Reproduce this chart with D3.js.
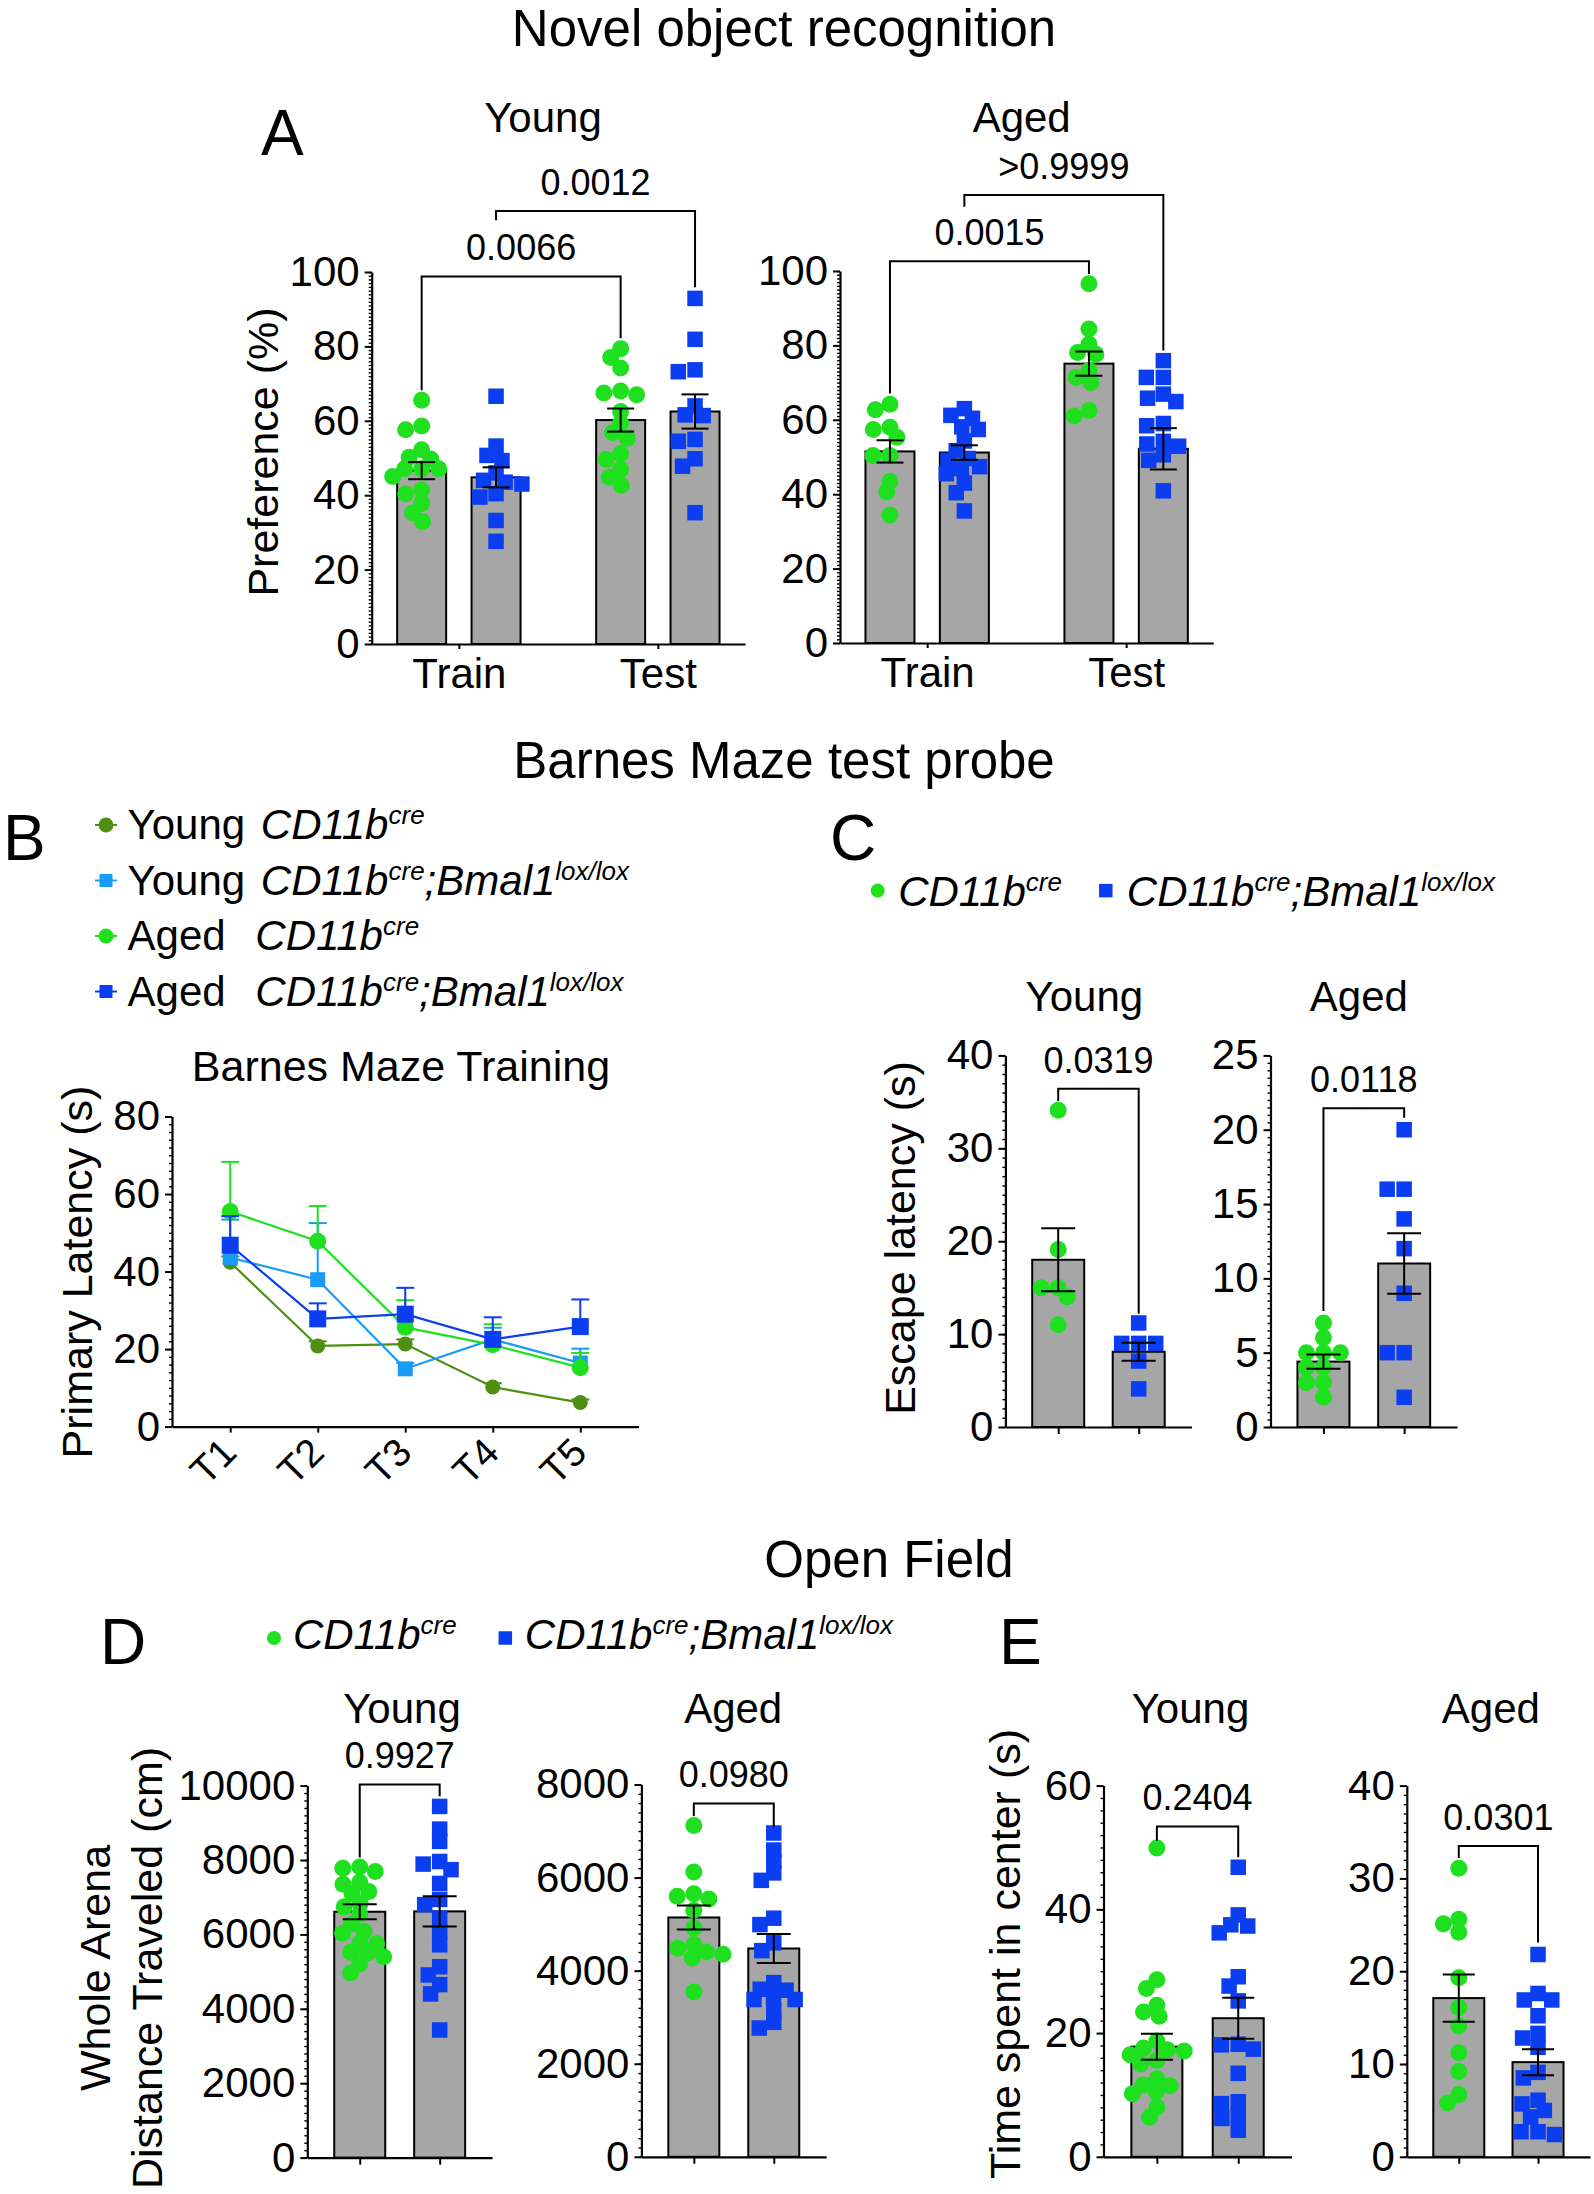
<!DOCTYPE html>
<html><head><meta charset="utf-8">
<script src="https://cdn.jsdelivr.net/npm/d3@7"></script>
<style>
body{margin:0;background:#fff;}
svg{font-family:"Liberation Sans", Arial, Helvetica, sans-serif;}
text{fill:#000;}
</style></head><body>
<script>
// ================= DATA =================
const genotypes = ["CD11b-cre", "CD11b-cre;Bmal1-lox/lox"];
const norCategories = ["Train", "Test"];

// A: Novel object recognition, preference (%)
const norYoungMeans = [46.6, 44.8, 60.2, 62.5];       // Train-cre, Train-KO, Test-cre, Test-KO
const norYoungSEM   = [2.3, 2.7, 3.1, 4.6];
const norYoungTrainCre = [65.5, 58.6, 57.6, 52.2, 50.2, 49.7, 47.1, 47.1, 47.1, 45.0, 41.4, 40.4, 37.8, 35.3, 32.9];
const norYoungTrainKO  = [66.6, 53.2, 50.7, 49.3, 46.0, 44.0, 43.5, 43.0, 40.4, 39.5, 33.2, 27.6];
const norYoungTestCre  = [79.4, 77.0, 74.2, 68.0, 67.5, 67.0, 62.5, 59.4, 56.8, 55.3, 51.2, 49.6, 47.0, 44.8, 42.7];
const norYoungTestKO   = [92.9, 81.9, 73.7, 73.2, 64.0, 61.6, 61.4, 55.0, 54.5, 49.8, 47.8, 35.3];
const norYoungP = ["0.0066", "0.0012"];

const norAgedMeans = [51.5, 51.2, 75.1, 52.2];
const norAgedSEM   = [3.0, 1.95, 3.25, 5.55];
const norAgedTrainCre = [64.2, 62.7, 58.0, 57.4, 55.3, 50.4, 50.4, 43.5, 40.6, 34.4];
const norAgedTrainKO  = [63.0, 61.2, 60.4, 58.1, 57.4, 54.3, 51.7, 49.6, 49.1, 47.4, 46.9, 45.5, 43.0, 40.4, 35.5];
const norAgedTestCre  = [96.6, 84.4, 80.3, 78.1, 77.6, 73.3, 71.4, 70.0, 62.5, 61.0];
const norAgedTestKO   = [75.9, 71.4, 71.4, 66.9, 65.8, 64.9, 59.0, 58.4, 54.2, 53.5, 52.9, 50.6, 49.1, 40.9];
const norAgedP = ["0.0015", ">0.9999"];

// B: Barnes maze training, primary latency (s)
const trials = ["T1", "T2", "T3", "T4", "T5"];
const bmYoungCre    = [42.4, 20.8, 21.3, 10.2, 6.2];
const bmYoungCreSEM = [1.5, 1.2, 1.2, 1.0, 0.8];
const bmYoungKO     = [43.6, 37.9, 14.9, 22.5, 16.4];
const bmYoungKOSEM  = [9.8, 14.6, 1.5, 3.0, 3.7];
const bmAgedCre     = [55.5, 47.8, 25.6, 21.1, 15.2];
const bmAgedCreSEM  = [12.8, 9.1, 7.0, 5.3, 3.8];
const bmAgedKO      = [46.8, 27.8, 29.0, 22.5, 25.8];
const bmAgedKOSEM   = [7.5, 4.0, 6.8, 5.7, 7.0];

// C: Barnes maze probe, escape latency (s)
const escYoungMeans = [18.0, 8.1];
const escYoungSEM   = [3.4, 0.98];
const escYoungCre = [34.1, 19.1, 15.0, 15.0, 14.0, 11.0];
const escYoungKO  = [11.2, 9.0, 9.0, 9.0, 7.1, 4.1];
const escYoungP = ["0.0319"];
const escAgedMeans = [4.4, 11.0];
const escAgedSEM   = [0.48, 2.04];
const escAgedCre = [7.0, 6.0, 5.0, 5.0, 5.0, 4.0, 4.0, 3.0, 3.0, 2.0];
const escAgedKO  = [20.0, 16.0, 16.0, 14.0, 12.0, 9.0, 5.0, 5.0, 2.0];
const escAgedP = ["0.0118"];

// D: Open field, whole-arena distance (cm)
const distYoungMeans = [6609, 6619];
const distYoungSEM   = [199, 407];
const distYoungCre = [7810, 7780, 7690, 7400, 7350, 7150, 7100, 6840, 6740, 6540, 6280, 6080, 6030, 5770, 5750, 5520, 5500, 5400, 5210, 4960];
const distYoungKO  = [9440, 8830, 8500, 7960, 7890, 7740, 7370, 6940, 6800, 6440, 6080, 5720, 5130, 4910, 4650, 4400, 3430];
const distYoungP = ["0.9927"];
const distAgedMeans = [5143, 4476];
const distAgedSEM   = [257, 309];
const distAgedCre = [7120, 6120, 5650, 5600, 5540, 5300, 4920, 4560, 4480, 4400, 4350, 4270, 3540];
const distAgedKO  = [6958, 6592, 6348, 6100, 5940, 5127, 4990, 4598, 4430, 3743, 3600, 3580, 3420, 3380, 3380, 3133, 2890, 2767];
const distAgedP = ["0.0980"];

// E: Open field, time in center (s)
const ctrYoungMeans = [17.8, 22.4];
const ctrYoungSEM   = [2.1, 3.3];
const ctrYoungCre = [49.9, 28.6, 27.2, 24.5, 23.4, 22.7, 18.7, 17.6, 17.3, 17.1, 16.5, 15.6, 15.0, 12.6, 11.6, 11.5, 10.5, 10.2, 8.0, 6.4];
const ctrYoungKO  = [46.8, 39.1, 37.5, 37.3, 36.2, 29.1, 27.6, 25.2, 18.2, 18.1, 17.4, 13.5, 8.9, 8.6, 6.7, 6.2, 4.3];
const ctrYoungP = ["0.2404"];
const ctrAgedMeans = [17.1, 10.2];
const ctrAgedSEM   = [2.55, 1.4];
const ctrAgedCre = [31.1, 25.6, 25.1, 24.2, 19.3, 16.1, 14.1, 11.2, 9.2, 6.7, 5.8];
const ctrAgedKO  = [21.8, 17.6, 16.9, 16.9, 15.2, 13.3, 12.8, 11.8, 9.1, 8.5, 6.1, 5.7, 5.0, 4.3, 2.7, 2.7, 2.4];
const ctrAgedP = ["0.0301"];

// ================= STYLE / LAYOUT =================
const W = 1594, H = 2194;
const FONT = 42, PFONT = 36, LETTER = 64, SECTION = 51;
const GREEN = "#1fe01f", BLUE = "#0b3ef0", OLIVE = "#4f8f12", LIGHTBLUE = "#1a9cf6", BARFILL = "#a6a6a6";
const SWARM_DX = 17, SWARM_DY = 11;

const svg = d3.select("body").append("svg").attr("width", W).attr("height", H);

function txt(x, y, s, size, anchor) {
  return svg.append("text").attr("x", x).attr("y", y).attr("text-anchor", anchor || "middle")
    .style("font-size", size + "px").text(s);
}
function vtxt(x, y, s, size) {
  return svg.append("text").attr("transform", `translate(${x},${y}) rotate(-90)`)
    .attr("text-anchor", "middle").style("font-size", size + "px").text(s);
}
function rich(parent, x, y, parts, size) {
  const t = parent.append("text").attr("x", x).attr("y", y).style("font-size", size + "px").style("white-space", "pre");
  let shift = 0;
  parts.forEach(p => {
    const ts = t.append("tspan").text(p.t);
    if (p.i) ts.style("font-style", "italic");
    const target = p.sup ? -Math.round(size * 0.36) : 0;
    if (target - shift !== 0) ts.attr("dy", target - shift);
    shift = target;
    if (p.sup) ts.style("font-size", Math.round(size * 0.62) + "px");
    if (p.dx) ts.attr("dx", p.dx);
  });
  return t;
}
function marker(g, kind, x, y, size, color) {
  if (kind === 0) g.append("circle").attr("cx", x).attr("cy", y).attr("r", size / 2).attr("fill", color);
  else g.append("rect").attr("x", x - size / 2).attr("y", y - size / 2).attr("width", size).attr("height", size).attr("fill", color);
}

// deterministic beeswarm placement (elliptical footprint: wider than tall, like GraphPad scatter)
function swarm(values, y, cx) {
  const placed = [];
  const pts = values.map(v => ({ v, y: y(v) })).sort((a, b) => a.y - b.y);
  pts.forEach(p => {
    const iv = [];
    placed.forEach(q => {
      const dy = Math.abs(q.y - p.y);
      if (dy < SWARM_DY) { const dx = SWARM_DX * Math.sqrt(1 - (dy / SWARM_DY) ** 2); iv.push([q.x - dx, q.x + dx]); }
    });
    const cands = [cx];
    iv.forEach(([a, b]) => cands.push(a, b));
    cands.sort((a, b) => Math.abs(a - cx) - Math.abs(b - cx));
    for (const c of cands) {
      if (iv.every(([a, b]) => c <= a + 1e-6 || c >= b - 1e-6)) { p.x = c; break; }
    }
    placed.push(p);
  });
  return placed;
}

function styleAxis(a) {
  a.attr("font-family", null).attr("font-size", null);
  a.select(".domain").attr("stroke-width", 2.2);
  a.selectAll(".tick line").attr("stroke-width", 2);
  a.selectAll(".tick text").style("font-size", FONT + "px").attr("fill", "#000");
}

function barPanel(c) {
  const g = svg.append("g");
  const y = d3.scaleLinear().domain([0, c.max]).range([c.y0, c.yTop]);
  const x = d3.scalePoint().domain(c.cats).range([c.axisX, c.xEnd]).padding(c.pad);
  const sub = d3.scalePoint().domain(genotypes).range([-c.sub, c.sub]);
  const cx = b => x(b.cat) + (c.sub ? sub(genotypes[b.geno]) : 0);

  // minor ticks
  g.append("g").attr("transform", `translate(${c.axisX},0)`)
    .call(d3.axisLeft(y).tickValues(d3.range(0, c.max + 1e-9, c.minor)).tickSize(3).tickFormat(""))
    .call(s => s.select(".domain").remove())
    .selectAll("line").attr("stroke-width", 1.4);
  const ya = g.append("g").attr("transform", `translate(${c.axisX},0)`)
    .call(d3.axisLeft(y).tickValues(d3.range(0, c.max + 1e-9, c.step)).tickSize(7).tickSizeOuter(0)
      .tickPadding(5).tickFormat(d3.format("d")));
  styleAxis(ya);

  // bars
  c.bars.forEach(b => {
    g.append("rect").attr("x", cx(b) - c.bw / 2).attr("y", y(b.mean)).attr("width", c.bw)
      .attr("height", c.y0 - y(b.mean)).attr("fill", BARFILL).attr("stroke", "#000").attr("stroke-width", 2);
  });
  const xa = g.append("g").attr("transform", `translate(0,${c.y0})`)
    .call(d3.axisBottom(x).tickSize(7).tickSizeOuter(0).tickPadding(7).tickFormat(c.showCats ? d => d : () => ""));
  styleAxis(xa);
  if (c.sub) xa.selectAll(".tick line").attr("y2", 5);

  // points
  c.bars.forEach(b => {
    const color = b.geno === 0 ? GREEN : BLUE;
    const size = b.geno === 0 ? 17 : 15.5;
    swarm(b.pts, y, cx(b)).forEach(p => marker(g, b.geno, p.x, p.y, size, color));
  });
  // error bars
  c.bars.forEach(b => {
    const xc = cx(b), t = y(b.mean + b.sem), bt = y(b.mean - b.sem);
    g.append("line").attr("x1", xc).attr("x2", xc).attr("y1", t).attr("y2", bt).attr("stroke", "#000").attr("stroke-width", 2);
    [t, bt].forEach(yy => g.append("line").attr("x1", xc - c.cap / 2).attr("x2", xc + c.cap / 2)
      .attr("y1", yy).attr("y2", yy).attr("stroke", "#000").attr("stroke-width", 2));
  });
  // brackets
  c.brackets.forEach(k => {
    const xl = cx(c.bars[k.from]), xr = cx(c.bars[k.to]);
    g.append("path").attr("d", `M${xl},${y(k.legL)}V${y(k.level)}H${xr}V${y(k.legR)}`)
      .attr("fill", "none").attr("stroke", "#000").attr("stroke-width", 2);
    txt((xl + xr) / 2, y(k.level) - 16, k.label, PFONT);
  });
  txt(c.titleX, c.titleY, c.title, FONT);
}

// ================= SECTION TITLES / LETTERS =================
txt(784, 46, "Novel object recognition", SECTION);
txt(784, 778, "Barnes Maze test probe", SECTION);
txt(889, 1577, "Open Field", SECTION);
txt(261, 155, "A", LETTER, "start");
txt(3, 860, "B", LETTER, "start");
txt(830, 860, "C", LETTER, "start");
txt(100, 1664, "D", LETTER, "start");
txt(999, 1664, "E", LETTER, "start");

// ================= PANEL A =================
const mkBars4 = (means, sem, sets) => means.map((m, i) => ({
  cat: norCategories[Math.floor(i / 2)], geno: i % 2, mean: m, sem: sem[i], pts: sets[i] }));
const mkBars2 = (means, sem, sets) => means.map((m, i) => ({
  cat: genotypes[i], geno: i, mean: m, sem: sem[i], pts: sets[i] }));

barPanel({ axisX: 371.7, xEnd: 745, y0: 644, yTop: 272, max: 100, step: 20, minor: 1,
  cats: norCategories, pad: 0.438, sub: 37.2, bw: 49, cap: 27, showCats: true,
  bars: mkBars4(norYoungMeans, norYoungSEM, [norYoungTrainCre, norYoungTrainKO, norYoungTestCre, norYoungTestKO]),
  brackets: [{ from: 0, to: 2, level: 98.8, legL: 68.2, legR: 82.2, label: norYoungP[0] },
             { from: 1, to: 3, level: 116.4, legL: 113.9, legR: 95.9, label: norYoungP[1] }],
  title: "Young", titleX: 543, titleY: 131.5 });
barPanel({ axisX: 840, xEnd: 1213.3, y0: 643, yTop: 271, max: 100, step: 20, minor: 1,
  cats: norCategories, pad: 0.438, sub: 37.2, bw: 49, cap: 27, showCats: true,
  bars: mkBars4(norAgedMeans, norAgedSEM, [norAgedTrainCre, norAgedTrainKO, norAgedTestCre, norAgedTestKO]),
  brackets: [{ from: 0, to: 2, level: 102.6, legL: 67.1, legR: 99.2, label: norAgedP[0] },
             { from: 1, to: 3, level: 120.4, legL: 117.3, legR: 78.6, label: norAgedP[1] }],
  title: "Aged", titleX: 1021.7, titleY: 131.5 });
vtxt(277.5, 452, "Preference (%)", 43);

// ================= PANEL B =================
(function () {
  const g = svg.append("g");
  const x = d3.scalePoint().domain(trials).range([172, 638.5]).padding(0.665);
  const y = d3.scaleLinear().domain([0, 80]).range([1426.6, 1116.5]);
  g.append("g").attr("transform", `translate(172,0)`)
    .call(d3.axisLeft(y).tickValues(d3.range(0, 80.001, 2)).tickSize(3).tickFormat(""))
    .call(s => s.select(".domain").remove()).selectAll("line").attr("stroke-width", 1.4);
  const ya = g.append("g").attr("transform", `translate(172,0)`)
    .call(d3.axisLeft(y).tickValues(d3.range(0, 80.001, 20)).tickSize(7).tickSizeOuter(0).tickPadding(5));
  styleAxis(ya);
  const xa = g.append("g").attr("transform", `translate(0,${y(0)})`)
    .call(d3.axisBottom(x).tickSize(6).tickSizeOuter(0));
  styleAxis(xa);
  xa.selectAll(".tick text").attr("y", null).attr("dy", null).attr("text-anchor", "end")
    .attr("transform", "translate(8,28) rotate(-45)").style("font-size", "39px");

  const series = [
    { vals: bmYoungCre, sem: bmYoungCreSEM, color: OLIVE, kind: 0, size: 15 },
    { vals: bmYoungKO, sem: bmYoungKOSEM, color: LIGHTBLUE, kind: 1, size: 15 },
    { vals: bmAgedCre, sem: bmAgedCreSEM, color: GREEN, kind: 0, size: 17 },
    { vals: bmAgedKO, sem: bmAgedKOSEM, color: BLUE, kind: 1, size: 17 }];
  const line = d3.line().x((d, i) => x(trials[i])).y(d => y(d));
  series.forEach(s => {
    s.vals.forEach((v, i) => {
      const xc = x(trials[i]);
      g.append("line").attr("x1", xc).attr("x2", xc).attr("y1", y(v)).attr("y2", y(v + s.sem[i]))
        .attr("stroke", s.color).attr("stroke-width", 2);
      g.append("line").attr("x1", xc - 9).attr("x2", xc + 9).attr("y1", y(v + s.sem[i])).attr("y2", y(v + s.sem[i]))
        .attr("stroke", s.color).attr("stroke-width", 2);
    });
    g.append("path").attr("d", line(s.vals)).attr("fill", "none").attr("stroke", s.color).attr("stroke-width", 2.2);
    s.vals.forEach((v, i) => marker(g, s.kind, x(trials[i]), y(v), s.size, s.color));
  });
  txt(401, 1081, "Barnes Maze Training", 43);
  vtxt(91.5, 1272, "Primary Latency (s)", 43);

  // legend
  const lg = svg.append("g");
  const rows = [
    { age: "Young ", ko: false, color: OLIVE, kind: 0, y: 825 },
    { age: "Young ", ko: true, color: LIGHTBLUE, kind: 1, y: 880.5 },
    { age: "Aged ", ko: false, color: GREEN, kind: 0, y: 936 },
    { age: "Aged ", ko: true, color: BLUE, kind: 1, y: 991.5 }];
  rows.forEach(r => {
    lg.append("line").attr("x1", 95).attr("x2", 117).attr("y1", r.y).attr("y2", r.y).attr("stroke", r.color).attr("stroke-width", 2);
    marker(lg, r.kind, 106, r.y, r.kind === 0 ? 15 : 13, r.color);
    const parts = [{ t: r.age }, { t: "CD11b", i: true, dx: r.age === "Aged " ? 18 : 4 }, { t: "cre", i: true, sup: true }];
    if (r.ko) parts.push({ t: ";Bmal1", i: true }, { t: "lox/lox", i: true, sup: true });
    rich(lg, 127.6, r.y + 14, parts, 42);
  });
})();

// ================= PANEL C =================
barPanel({ axisX: 1005.4, xEnd: 1191.5, y0: 1427, yTop: 1055.4, max: 40, step: 10, minor: 1,
  cats: genotypes, pad: 0.656, sub: 0, bw: 52, cap: 34, showCats: false,
  bars: mkBars2(escYoungMeans, escYoungSEM, [escYoungCre, escYoungKO]),
  brackets: [{ from: 0, to: 1, level: 36.4, legL: 35.1, legR: 12.2, label: escYoungP[0] }],
  title: "Young", titleX: 1084.4, titleY: 1011 });
barPanel({ axisX: 1270.5, xEnd: 1457.1, y0: 1427, yTop: 1055.4, max: 25, step: 5, minor: 0.5,
  cats: genotypes, pad: 0.656, sub: 0, bw: 52, cap: 34, showCats: false,
  bars: mkBars2(escAgedMeans, escAgedSEM, [escAgedCre, escAgedKO]),
  brackets: [{ from: 0, to: 1, level: 21.45, legL: 7.8, legR: 20.8, label: escAgedP[0] }],
  title: "Aged", titleX: 1358.9, titleY: 1011 });
vtxt(914.6, 1238, "Escape latency (s)", 43);
(function () {
  const lg = svg.append("g");
  marker(lg, 0, 877.7, 890.6, 14, GREEN);
  rich(lg, 898.2, 905.8, [{ t: "CD11b", i: true }, { t: "cre", i: true, sup: true }], 42);
  marker(lg, 1, 1105.8, 890.6, 13.5, BLUE);
  rich(lg, 1126.8, 905.8, [{ t: "CD11b", i: true }, { t: "cre", i: true, sup: true }, { t: ";Bmal1", i: true }, { t: "lox/lox", i: true, sup: true }], 42);
})();

// ================= PANEL D =================
barPanel({ axisX: 307.3, xEnd: 492.1, y0: 2157.6, yTop: 1785.6, max: 10000, step: 2000, minor: 200,
  cats: genotypes, pad: 0.656, sub: 0, bw: 51, cap: 34, showCats: false,
  bars: mkBars2(distYoungMeans, distYoungSEM, [distYoungCre, distYoungKO]),
  brackets: [{ from: 0, to: 1, level: 10030, legL: 8065, legR: 9714, label: distYoungP[0] }],
  title: "Young", titleX: 402, titleY: 1723 });
barPanel({ axisX: 641.4, xEnd: 826.2, y0: 2156.8, yTop: 1784.5, max: 8000, step: 2000, minor: 200,
  cats: genotypes, pad: 0.656, sub: 0, bw: 51, cap: 34, showCats: false,
  bars: mkBars2(distAgedMeans, distAgedSEM, [distAgedCre, distAgedKO]),
  brackets: [{ from: 0, to: 1, level: 7594, legL: 7325, legR: 7097, label: distAgedP[0] }],
  title: "Aged", titleX: 733.2, titleY: 1723 });
vtxt(110, 1968, "Whole Arena", 43);
vtxt(161.5, 1968, "Distance Traveled (cm)", 43);
(function () {
  const lg = svg.append("g");
  marker(lg, 0, 274, 1638, 14, GREEN);
  rich(lg, 292.9, 1649, [{ t: "CD11b", i: true }, { t: "cre", i: true, sup: true }], 42);
  marker(lg, 1, 505.3, 1638, 13.5, BLUE);
  rich(lg, 524.8, 1649, [{ t: "CD11b", i: true }, { t: "cre", i: true, sup: true }, { t: ";Bmal1", i: true }, { t: "lox/lox", i: true, sup: true }], 42);
})();

// ================= PANEL E =================
barPanel({ axisX: 1103.5, xEnd: 1291.6, y0: 2156.8, yTop: 1785.6, max: 60, step: 20, minor: 2,
  cats: genotypes, pad: 0.656, sub: 0, bw: 51, cap: 32, showCats: false,
  bars: mkBars2(ctrYoungMeans, ctrYoungSEM, [ctrYoungCre, ctrYoungKO]),
  brackets: [{ from: 0, to: 1, level: 53.4, legL: 51.1, legR: 48.4, label: ctrYoungP[0] }],
  title: "Young", titleX: 1190.5, titleY: 1723 });
barPanel({ axisX: 1406.8, xEnd: 1590, y0: 2156.8, yTop: 1785.6, max: 40, step: 10, minor: 1,
  cats: genotypes, pad: 0.656, sub: 0, bw: 51, cap: 32, showCats: false,
  bars: mkBars2(ctrAgedMeans, ctrAgedSEM, [ctrAgedCre, ctrAgedKO]),
  brackets: [{ from: 0, to: 1, level: 33.5, legL: 32.2, legR: 23.1, label: ctrAgedP[0] }],
  title: "Aged", titleX: 1490.9, titleY: 1723 });
vtxt(1019.5, 1954, "Time spent in center (s)", 43);
</script>
</body></html>
